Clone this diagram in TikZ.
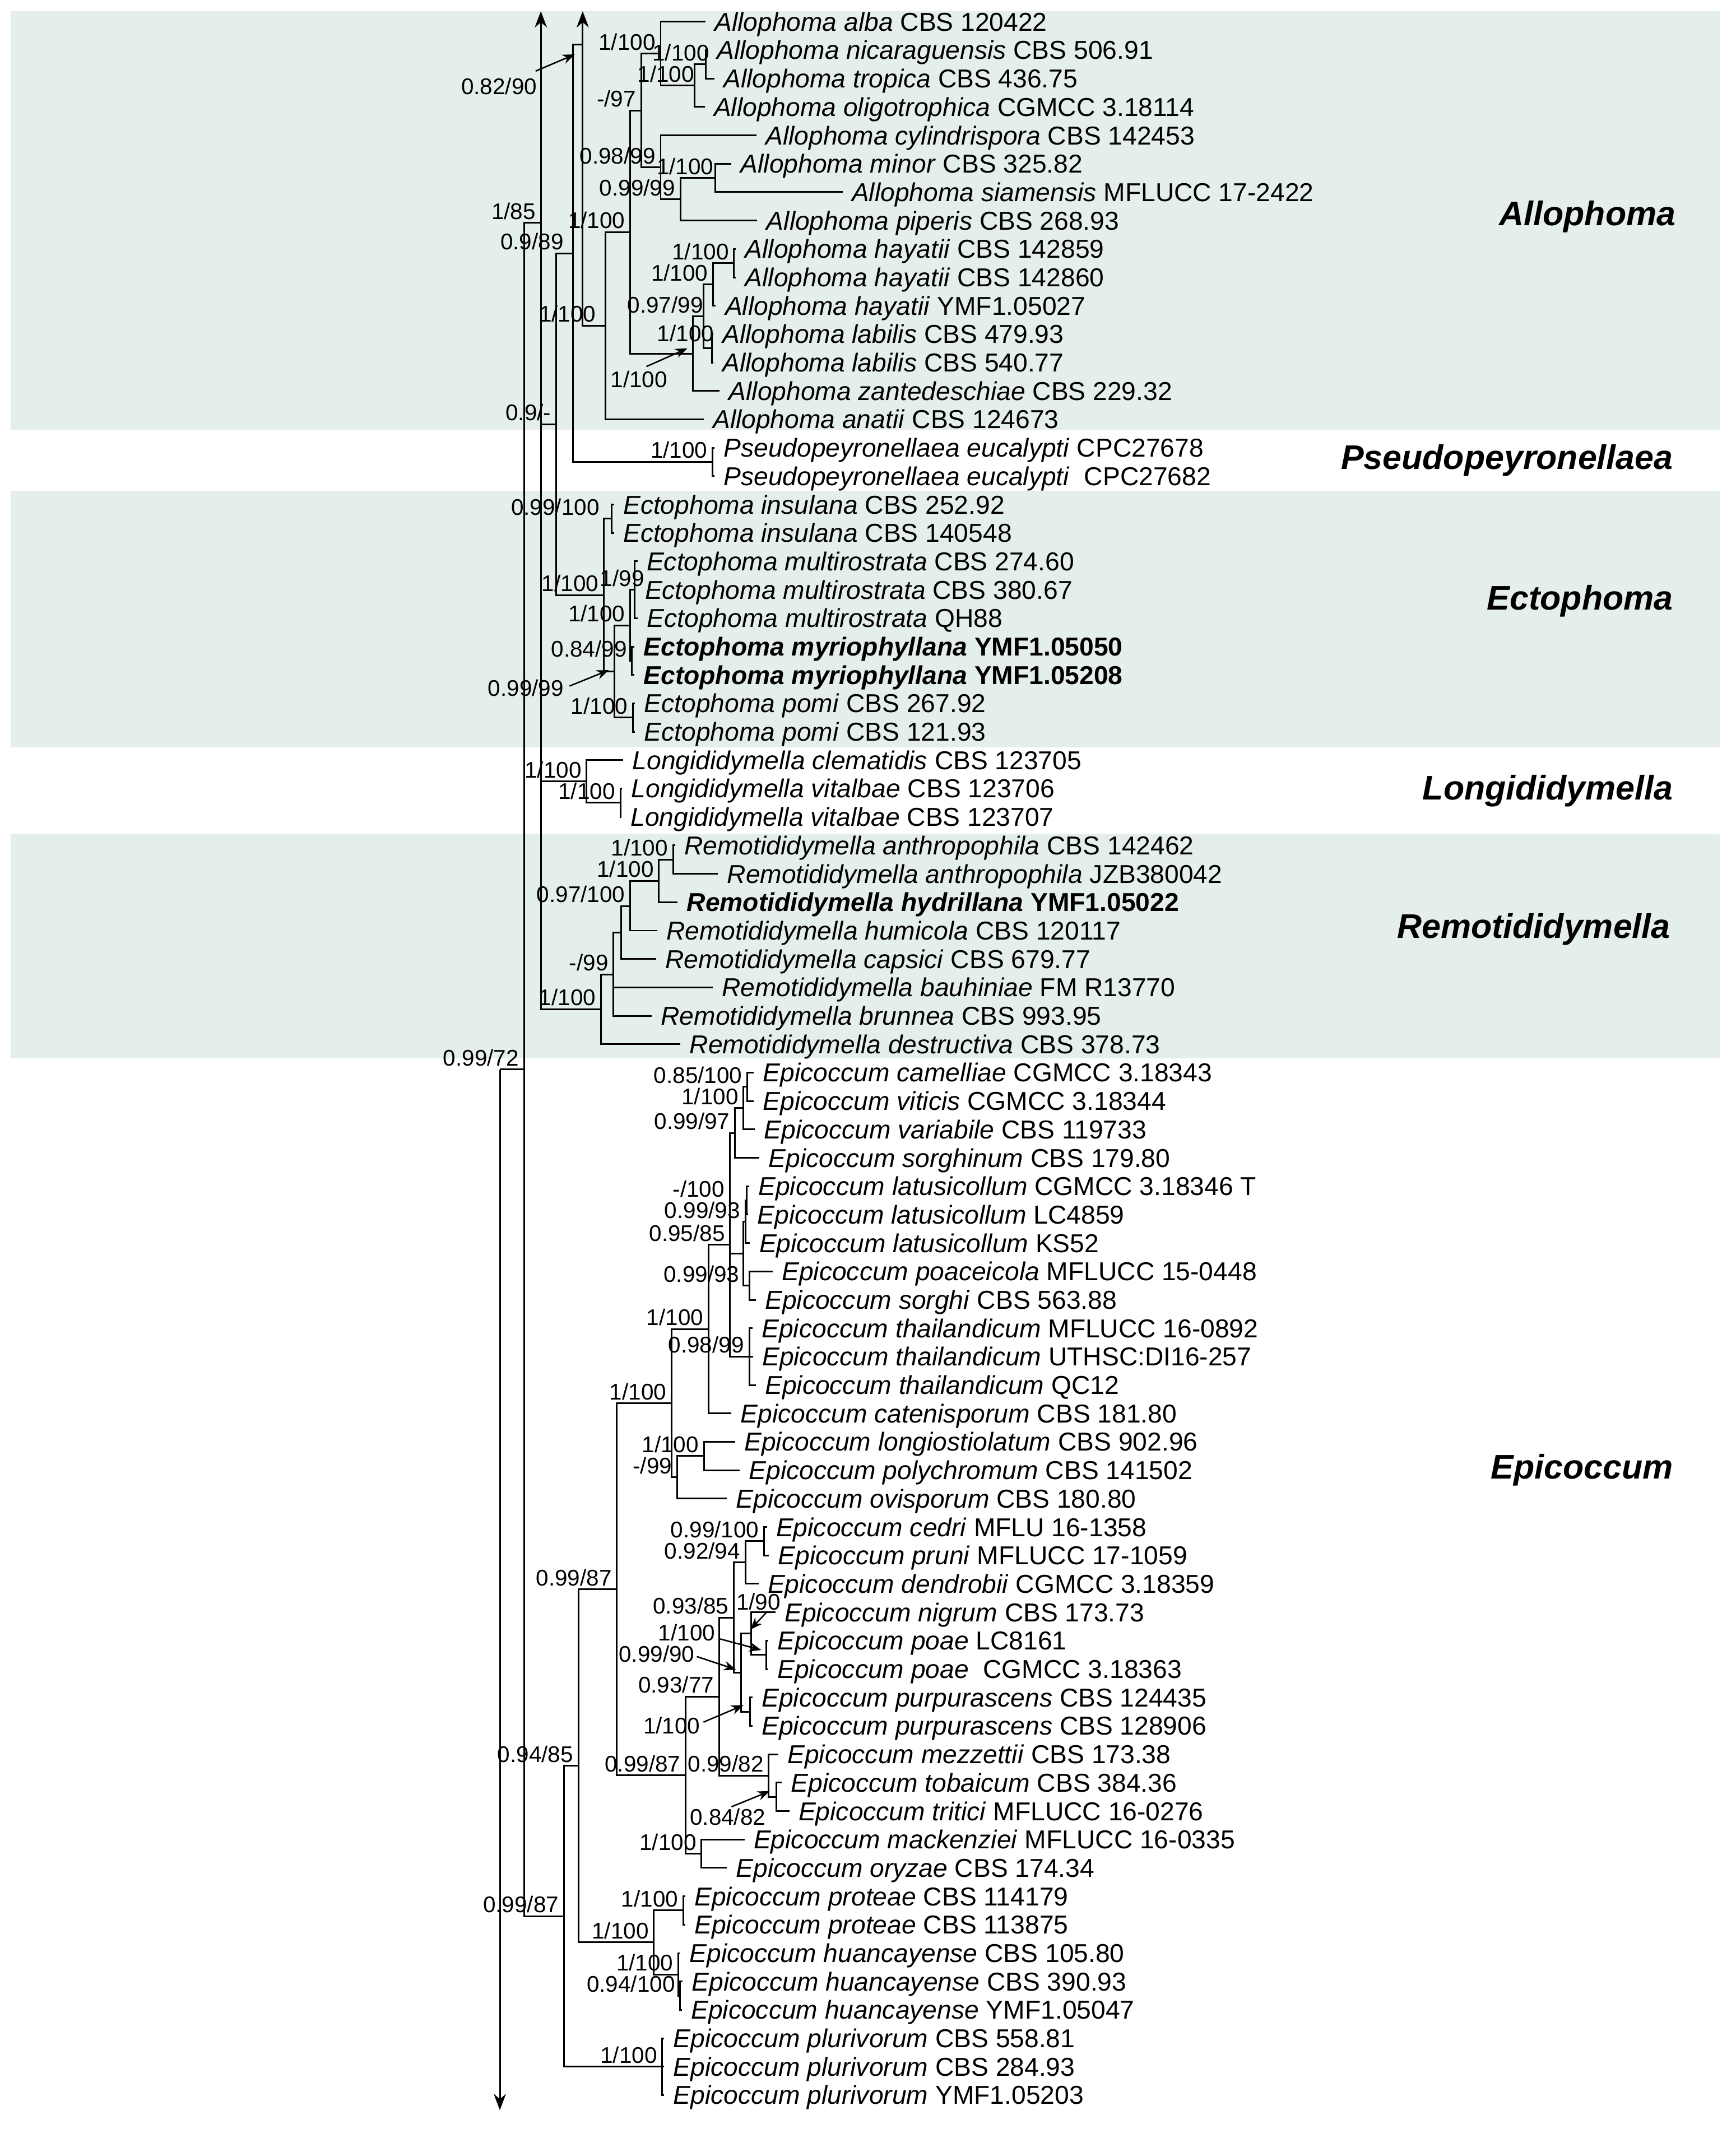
\documentclass[tikz,border=0pt]{standalone}
\usepackage{fontspec}
\setmainfont{Liberation Sans}
\usetikzlibrary{arrows.meta}
\definecolor{cladebg}{RGB}{229,239,233}

\begin{document}
\begin{tikzpicture}[x=0.02cm,y=-0.41836cm,
     branch/.style={line width=0.7pt},
     leaf/.style={anchor=base west,inner sep=0pt,xshift=0.13cm,yshift=-0.136cm,font=\fontsize{10.85}{12}\selectfont},
     supp/.style={anchor=base east,inner sep=0pt,xshift=-0.07cm,yshift=0.054cm,font=\fontsize{9.5}{11}\selectfont},
     note/.style={anchor=base east,inner sep=0pt,font=\fontsize{9.5}{11}\selectfont},
     genus/.style={anchor=base east,inner sep=0pt,yshift=-0.18cm,font=\fontsize{14.3}{16}\selectfont\bfseries\itshape},
     band/.style={fill=cladebg,draw=none},
     longarrow/.style={line width=0.7pt,-{Stealth[length=0.24cm,width=0.18cm]}},
     pointer/.style={line width=0.6pt,-{Stealth[length=0.18cm,width=0.14cm]}}]

     \path[fill=white] (0,0.235) rectangle (1278,75.195);
     \fill[band] (8,0.627) rectangle (1266,15.37);
     \fill[band] (8,17.52) rectangle (1266,26.54);
     \fill[band] (8,29.58) rectangle (1266,37.49);

     \coordinate (root) at (368,37.89);
     \coordinate (rootend) at (368,74.53);
     \coordinate (a) at (385.8,37.89);
     \coordinate (b) at (398.2,8.08);
     \coordinate (btop) at (398.2,0.63);
     \coordinate (c) at (415.2,67.70);
     \coordinate (d) at (409.5,15.17);
     \coordinate (e) at (421.9,9.16);
     \coordinate (f) at (429,1.81);
     \coordinate (ftop) at (429,0.63);
     \coordinate (allo) at (445.6,11.70);
     \coordinate (alloin) at (464,8.41);
     \coordinate (am) at (472,4.125);
     \coordinate (ap) at (486.4,2.125);
     \coordinate (ap2) at (511.4,3.25);
     \coordinate (ap3) at (519.5,2.5);
     \coordinate (aq) at (486.4,6.125);
     \coordinate (aq2) at (500.9,7.25);
     \coordinate (aq3) at (526.7,6.5);
     \coordinate (an) at (510.1,12.69);
     \coordinate (an2) at (518,11.375);
     \coordinate (an3) at (525.1,10.25);
     \coordinate (an5) at (540.4,9.5);
     \coordinate (an4) at (524,12.5);
     \coordinate (pseudo) at (524.6,16.5);
     \coordinate (ecto) at (444.5,21.19);
     \coordinate (ein) at (450.3,18.5);
     \coordinate (ect2) at (452.2,23.875);
     \coordinate (ect3) at (464,22.25);
     \coordinate (emu) at (467.4,21);
     \coordinate (emy) at (465.3,23.5);
     \coordinate (epo) at (466,25.5);
     \coordinate (longi) at (431.9,27.75);
     \coordinate (long2) at (456.7,28.5);
     \coordinate (remo) at (442.4,35.77);
     \coordinate (rm2) at (451.7,34.54);
     \coordinate (rm3) at (457.4,33.07);
     \coordinate (rm4) at (464,32.135);
     \coordinate (rm5) at (485.1,31.25);
     \coordinate (rm6) at (495.6,30.5);
     \coordinate (g) at (425.8,62.41);
     \coordinate (i) at (454.2,56.19);
     \coordinate (j1) at (494.4,49.64);
     \coordinate (j3) at (521.7,47.03);
     \coordinate (j6) at (537.5,44.06);
     \coordinate (e3) at (541.2,40.125);
     \coordinate (e2) at (547.4,39.25);
     \coordinate (e1) at (550.2,38.5);
     \coordinate (j8) at (547.4,44.375);
     \coordinate (la2) at (548.8,43.25);
     \coordinate (la1) at (549.9,42.5);
     \coordinate (pc) at (551.6,45.5);
     \coordinate (th) at (551.6,48);
     \coordinate (j4) at (498.6,52.25);
     \coordinate (j5) at (518.2,51.5);
     \coordinate (j2) at (504.8,62.74);
     \coordinate (k1) at (529.5,59.97);
     \coordinate (cd3) at (540.3,57.19);
     \coordinate (cd2) at (548.8,55.25);
     \coordinate (cd) at (562.6,54.5);
     \coordinate (ng) at (545.8,59.125);
     \coordinate (ng2) at (553,57.75);
     \coordinate (po) at (564,58.5);
     \coordinate (pu) at (552.2,60.5);
     \coordinate (mz) at (566,62.75);
     \coordinate (tt) at (571.5,63.5);
     \coordinate (mo) at (516.5,65.5);
     \coordinate (h) at (481.4,68.625);
     \coordinate (pr) at (503.1,67.5);
     \coordinate (hu) at (499.5,69.75);
     \coordinate (hu2) at (500.8,70.5);
     \coordinate (plu) at (487.6,73);

     \path (519.3,1) coordinate (t1) node[leaf] (l1) {\textit{Allophoma alba} CBS 120422};
     \path (521,2) coordinate (t2) node[leaf] (l2) {\textit{Allophoma nicaraguensis} CBS 506.91};
     \path (525.9,3) coordinate (t3) node[leaf] (l3) {\textit{Allophoma tropica} CBS 436.75};
     \path (518.8,4) coordinate (t4) node[leaf] (l4) {\textit{Allophoma oligotrophica} CGMCC 3.18114};
     \path (556.9,5) coordinate (t5) node[leaf] (l5) {\textit{Allophoma cylindrispora} CBS 142453};
     \path (538.5,6) coordinate (t6) node[leaf] (l6) {\textit{Allophoma minor} CBS 325.82};
     \path (620.3,7) coordinate (t7) node[leaf] (l7) {\textit{Allophoma siamensis} MFLUCC 17-2422};
     \path (557.5,8) coordinate (t8) node[leaf] (l8) {\textit{Allophoma piperis} CBS 268.93};
     \path (541.8,9) coordinate (t9) node[leaf] (l9) {\textit{Allophoma hayatii} CBS 142859};
     \path (541.8,10) coordinate (t10) node[leaf] (l10) {\textit{Allophoma hayatii} CBS 142860};
     \path (527,11) coordinate (t11) node[leaf] (l11) {\textit{Allophoma hayatii} YMF1.05027};
     \path (525.2,12) coordinate (t12) node[leaf] (l12) {\textit{Allophoma labilis} CBS 479.93};
     \path (525.2,13) coordinate (t13) node[leaf] (l13) {\textit{Allophoma labilis} CBS 540.77};
     \path (529.8,14) coordinate (t14) node[leaf] (l14) {\textit{Allophoma zantedeschiae} CBS 229.32};
     \path (518,15) coordinate (t15) node[leaf] (l15) {\textit{Allophoma anatii} CBS 124673};
     \path (526,16) coordinate (t16) node[leaf] (l16) {\textit{Pseudopeyronellaea eucalypti} CPC27678};
     \path (526,17) coordinate (t17) node[leaf] (l17) {\textit{Pseudopeyronellaea eucalypti}\ \ CPC27682};
     \path (452,18) coordinate (t18) node[leaf] (l18) {\textit{Ectophoma insulana} CBS 252.92};
     \path (452,19) coordinate (t19) node[leaf] (l19) {\textit{Ectophoma insulana} CBS 140548};
     \path (469.3,20) coordinate (t20) node[leaf] (l20) {\textit{Ectophoma multirostrata} CBS 274.60};
     \path (468,21) coordinate (t21) node[leaf] (l21) {\textit{Ectophoma multirostrata} CBS 380.67};
     \path (469.5,22) coordinate (t22) node[leaf] (l22) {\textit{Ectophoma multirostrata} QH88};
     \path (467,23) coordinate (t23) node[leaf] (l23) {\textbf{\textit{Ectophoma myriophyllana} YMF1.05050}};
     \path (467,24) coordinate (t24) node[leaf] (l24) {\textbf{\textit{Ectophoma myriophyllana} YMF1.05208}};
     \path (467.5,25) coordinate (t25) node[leaf] (l25) {\textit{Ectophoma pomi} CBS 267.92};
     \path (467.5,26) coordinate (t26) node[leaf] (l26) {\textit{Ectophoma pomi} CBS 121.93};
     \path (458.8,27) coordinate (t27) node[leaf] (l27) {\textit{Longididymella clematidis} CBS 123705};
     \path (458,28) coordinate (t28) node[leaf] (l28) {\textit{Longididymella vitalbae} CBS 123706};
     \path (457.5,29) coordinate (t29) node[leaf] (l29) {\textit{Longididymella vitalbae} CBS 123707};
     \path (497,30) coordinate (t30) node[leaf] (l30) {\textit{Remotididymella anthropophila} CBS 142462};
     \path (528.5,31) coordinate (t31) node[leaf] (l31) {\textit{Remotididymella anthropophila} JZB380042};
     \path (498.8,32) coordinate (t32) node[leaf] (l32) {\textbf{\textit{Remotididymella hydrillana} YMF1.05022}};
     \path (483.8,33) coordinate (t33) node[leaf] (l33) {\textit{Remotididymella humicola} CBS 120117};
     \path (483,34) coordinate (t34) node[leaf] (l34) {\textit{Remotididymella capsici} CBS 679.77};
     \path (524.6,35) coordinate (t35) node[leaf] (l35) {\textit{Remotididymella bauhiniae} FM R13770};
     \path (479.8,36) coordinate (t36) node[leaf] (l36) {\textit{Remotididymella brunnea} CBS 993.95};
     \path (500.9,37) coordinate (t37) node[leaf] (l37) {\textit{Remotididymella destructiva} CBS 378.73};
     \path (555,38) coordinate (t38) node[leaf] (l38) {\textit{Epicoccum camelliae} CGMCC 3.18343};
     \path (555,39) coordinate (t39) node[leaf] (l39) {\textit{Epicoccum viticis} CGMCC 3.18344};
     \path (555.7,40) coordinate (t40) node[leaf] (l40) {\textit{Epicoccum variabile} CBS 119733};
     \path (559.1,41) coordinate (t41) node[leaf] (l41) {\textit{Epicoccum sorghinum} CBS 179.80};
     \path (551.5,42) coordinate (t42) node[leaf] (l42) {\textit{Epicoccum latusicollum} CGMCC 3.18346 T};
     \path (550.8,43) coordinate (t43) node[leaf] (l43) {\textit{Epicoccum latusicollum} LC4859};
     \path (552.2,44) coordinate (t44) node[leaf] (l44) {\textit{Epicoccum latusicollum} KS52};
     \path (568.8,45) coordinate (t45) node[leaf] (l45) {\textit{Epicoccum poaceicola} MFLUCC 15-0448};
     \path (556.4,46) coordinate (t46) node[leaf] (l46) {\textit{Epicoccum sorghi} CBS 563.88};
     \path (554,47) coordinate (t47) node[leaf] (l47) {\textit{Epicoccum thailandicum} MFLUCC 16-0892};
     \path (554.3,48) coordinate (t48) node[leaf] (l48) {\textit{Epicoccum thailandicum} UTHSC:DI16-257};
     \path (556.4,49) coordinate (t49) node[leaf] (l49) {\textit{Epicoccum thailandicum} QC12};
     \path (538.5,50) coordinate (t50) node[leaf] (l50) {\textit{Epicoccum catenisporum} CBS 181.80};
     \path (541.2,51) coordinate (t51) node[leaf] (l51) {\textit{Epicoccum longiostiolatum} CBS 902.96};
     \path (544.7,52) coordinate (t52) node[leaf] (l52) {\textit{Epicoccum polychromum} CBS 141502};
     \path (535.1,53) coordinate (t53) node[leaf] (l53) {\textit{Epicoccum ovisporum} CBS 180.80};
     \path (564.6,54) coordinate (t54) node[leaf] (l54) {\textit{Epicoccum cedri} MFLU 16-1358};
     \path (566,55) coordinate (t55) node[leaf] (l55) {\textit{Epicoccum pruni} MFLUCC 17-1059};
     \path (558.4,56) coordinate (t56) node[leaf] (l56) {\textit{Epicoccum dendrobii} CGMCC 3.18359};
     \path (570.8,57) coordinate (t57) node[leaf] (l57) {\textit{Epicoccum nigrum} CBS 173.73};
     \path (565.5,58) coordinate (t58) node[leaf] (l58) {\textit{Epicoccum poae} LC8161};
     \path (565.5,59) coordinate (t59) node[leaf] (l59) {\textit{Epicoccum poae}\ \ CGMCC 3.18363};
     \path (554,60) coordinate (t60) node[leaf] (l60) {\textit{Epicoccum purpurascens} CBS 124435};
     \path (554,61) coordinate (t61) node[leaf] (l61) {\textit{Epicoccum purpurascens} CBS 128906};
     \path (572.9,62) coordinate (t62) node[leaf] (l62) {\textit{Epicoccum mezzettii} CBS 173.38};
     \path (575.6,63) coordinate (t63) node[leaf] (l63) {\textit{Epicoccum tobaicum} CBS 384.36};
     \path (581.1,64) coordinate (t64) node[leaf] (l64) {\textit{Epicoccum tritici} MFLUCC 16-0276};
     \path (548.1,65) coordinate (t65) node[leaf] (l65) {\textit{Epicoccum mackenziei} MFLUCC 16-0335};
     \path (535.1,66) coordinate (t66) node[leaf] (l66) {\textit{Epicoccum oryzae} CBS 174.34};
     \path (504.5,67) coordinate (t67) node[leaf] (l67) {\textit{Epicoccum proteae} CBS 114179};
     \path (504.5,68) coordinate (t68) node[leaf] (l68) {\textit{Epicoccum proteae} CBS 113875};
     \path (501,69) coordinate (t69) node[leaf] (l69) {\textit{Epicoccum huancayense} CBS 105.80};
     \path (502.5,70) coordinate (t70) node[leaf] (l70) {\textit{Epicoccum huancayense} CBS 390.93};
     \path (502,71) coordinate (t71) node[leaf] (l71) {\textit{Epicoccum huancayense} YMF1.05047};
     \path (489,72) coordinate (t72) node[leaf] (l72) {\textit{Epicoccum plurivorum} CBS 558.81};
     \path (489,73) coordinate (t73) node[leaf] (l73) {\textit{Epicoccum plurivorum} CBS 284.93};
     \path (489,74) coordinate (t74) node[leaf] (l74) {\textit{Epicoccum plurivorum} YMF1.05203};

     \draw[branch] (root) -- (a);
     \draw[longarrow] (root) -- (rootend);
     \draw[branch] (a) |- (b) (a) |- (c);
     \draw[longarrow] (b) -- (btop);
     \draw[branch] (b) |- (d) (b) |- (longi) (b) |- (remo);
     \draw[branch] (d) |- (e) (d) |- (ecto);
     \draw[branch] (e) |- (f) (e) |- (pseudo);
     \draw[longarrow] (f) -- (ftop);
     \draw[branch] (f) |- (allo);
     \draw[branch] (allo) |- (alloin) (allo) |- (t15);
     \draw[branch] (alloin) |- (am) (alloin) |- (an);
     \draw[branch] (am) |- (ap) (am) |- (aq);
     \draw[branch] (ap) |- (t1) (ap) |- (ap2);
     \draw[branch] (ap2) |- (ap3) (ap2) |- (t4);
     \draw[branch] (ap3) |- (t2) (ap3) |- (t3);
     \draw[branch] (aq) |- (t5) (aq) |- (aq2);
     \draw[branch] (aq2) |- (aq3) (aq2) |- (t8);
     \draw[branch] (aq3) |- (t6) (aq3) |- (t7);
     \draw[branch] (an) |- (an2) (an) |- (t14);
     \draw[branch] (an2) |- (an3) (an2) |- (an4);
     \draw[branch] (an3) |- (an5) (an3) |- (t11);
     \draw[branch] (an5) |- (t9) (an5) |- (t10);
     \draw[branch] (an4) |- (t12) (an4) |- (t13);
     \draw[branch] (pseudo) |- (t16) (pseudo) |- (t17);
     \draw[branch] (ecto) |- (ein) (ecto) |- (ect2);
     \draw[branch] (ein) |- (t18) (ein) |- (t19);
     \draw[branch] (ect2) |- (ect3) (ect2) |- (epo);
     \draw[branch] (ect3) |- (emu) (ect3) |- (emy);
     \draw[branch] (emu) |- (t20) (emu) |- (t21) (emu) |- (t22);
     \draw[branch] (emy) |- (t23) (emy) |- (t24);
     \draw[branch] (epo) |- (t25) (epo) |- (t26);
     \draw[branch] (longi) |- (t27) (longi) |- (long2);
     \draw[branch] (long2) |- (t28) (long2) |- (t29);
     \draw[branch] (remo) |- (rm2) (remo) |- (t37);
     \draw[branch] (rm2) |- (rm3) (rm2) |- (t35) (rm2) |- (t36);
     \draw[branch] (rm3) |- (rm4) (rm3) |- (t34);
     \draw[branch] (rm4) |- (rm5) (rm4) |- (t33);
     \draw[branch] (rm5) |- (rm6) (rm5) |- (t32);
     \draw[branch] (rm6) |- (t30) (rm6) |- (t31);
     \draw[branch] (c) |- (g) (c) |- (plu);
     \draw[branch] (g) |- (i) (g) |- (h);
     \draw[branch] (i) |- (j1) (i) |- (j2);
     \draw[branch] (j1) |- (j3) (j1) |- (j4);
     \draw[branch] (j3) |- (j6) (j3) |- (t50);
     \draw[branch] (j6) |- (e3) (j6) |- (j8) (j6) |- (th);
     \draw[branch] (e3) |- (e2) (e3) |- (t41);
     \draw[branch] (e2) |- (e1) (e2) |- (t40);
     \draw[branch] (e1) |- (t38) (e1) |- (t39);
     \draw[branch] (j8) |- (la2) (j8) |- (pc);
     \draw[branch] (la2) |- (la1) (la2) |- (t44);
     \draw[branch] (la1) |- (t42) (la1) |- (t43);
     \draw[branch] (pc) |- (t45) (pc) |- (t46);
     \draw[branch] (th) |- (t47) (th) |- (t48) (th) |- (t49);
     \draw[branch] (j4) |- (j5) (j4) |- (t53);
     \draw[branch] (j5) |- (t51) (j5) |- (t52);
     \draw[branch] (j2) |- (k1) (j2) |- (mo);
     \draw[branch] (k1) |- (cd3) (k1) |- (mz);
     \draw[branch] (cd3) |- (cd2) (cd3) |- (ng);
     \draw[branch] (cd2) |- (cd) (cd2) |- (t56);
     \draw[branch] (cd) |- (t54) (cd) |- (t55);
     \draw[branch] (ng) |- (ng2) (ng) |- (pu);
     \draw[branch] (ng2) |- (t57) (ng2) |- (po);
     \draw[branch] (po) |- (t58) (po) |- (t59);
     \draw[branch] (pu) |- (t60) (pu) |- (t61);
     \draw[branch] (mz) |- (t62) (mz) |- (tt);
     \draw[branch] (tt) |- (t63) (tt) |- (t64);
     \draw[branch] (mo) |- (t65) (mo) |- (t66);
     \draw[branch] (h) |- (pr) (h) |- (hu);
     \draw[branch] (pr) |- (t67) (pr) |- (t68);
     \draw[branch] (hu) |- (t69) (hu) |- (hu2);
     \draw[branch] (hu2) |- (t70) (hu2) |- (t71);
     \draw[branch] (plu) |- (t72) (plu) |- (t73) (plu) |- (t74);

     \node[supp] (s-a) at (a) {0.99/72};
     \node[supp] (s-b) at (b) {1/85};
     \node[supp] (s-d) at (d) {0.9/-};
     \node[supp,xshift=-0.064cm] (s-e) at (e) {0.9/89};
     \node[supp,xshift=-0.062cm] (s-allo) at (allo) {1/100};
     \node[supp] (s-alloin) at (alloin) {1/100};
     \node[supp] (s-am) at (am) {-/97};
     \node[supp] (s-ap) at (ap) {1/100};
     \node[supp,xshift=0.07cm] (s-ap2) at (ap2) {1/100};
     \node[supp,xshift=0.13cm] (s-ap3) at (ap3) {1/100};
     \node[supp] (s-aq) at (aq) {0.98/99};
     \node[supp] (s-aq2) at (aq2) {0.99/99};
     \node[supp,xshift=0.05cm] (s-aq3) at (aq3) {1/100};
     \node[supp,xshift=0.07cm] (s-an2) at (an2) {0.97/99};
     \node[supp] (s-an3) at (an3) {1/100};
     \node[supp] (s-an5) at (an5) {1/100};
     \node[supp,xshift=0.11cm,yshift=0.05cm] (s-an4) at (an4) {1/100};
     \node[supp] (s-pseudo) at (pseudo) {1/100};
     \node[supp] (s-ecto) at (ecto) {1/100};
     \node[supp,xshift=-0.104cm] (s-ein) at (ein) {0.99/100};
     \node[supp] (s-ect3) at (ect3) {1/100};
     \node[supp,xshift=0.214cm] (s-emu) at (emu) {1/99};
     \node[supp] (s-emy) at (emy) {0.84/99};
     \node[supp] (s-epo) at (epo) {1/100};
     \node[supp] (s-longi) at (longi) {1/100};
     \node[supp] (s-long2) at (long2) {1/100};
     \node[supp] (s-remo) at (remo) {1/100};
     \node[supp] (s-rm2) at (rm2) {-/99};
     \node[supp] (s-rm4) at (rm4) {0.97/100};
     \node[supp] (s-rm5) at (rm5) {1/100};
     \node[supp] (s-rm6) at (rm6) {1/100};
     \node[supp] (s-c) at (c) {0.99/87};
     \node[supp] (s-g) at (g) {0.94/85};
     \node[supp] (s-i) at (i) {0.99/87};
     \node[supp] (s-j1) at (j1) {1/100};
     \node[supp] (s-j3) at (j3) {1/100};
     \node[supp] (s-j6) at (j6) {0.95/85};
     \node[supp] (s-e3) at (e3) {0.99/97};
     \node[supp] (s-e2) at (e2) {1/100};
     \node[supp] (s-e1) at (e1) {0.85/100};
     \node[supp] (s-la2) at (la2) {0.99/93};
     \node[supp,xshift=-0.254cm] (s-la1) at (la1) {-/100};
     \node[supp,xshift=-0.068cm] (s-pc) at (pc) {0.99/93};
     \node[supp] (s-th) at (th) {0.98/99};
     \node[supp] (s-j4) at (j4) {-/99};
     \node[supp] (s-j5) at (j5) {1/100};
     \node[supp] (s-j2) at (j2) {0.99/87};
     \node[supp] (s-k1) at (k1) {0.93/77};
     \node[supp] (s-cd3) at (cd3) {0.93/85};
     \node[supp] (s-cd2) at (cd2) {0.92/94};
     \node[supp] (s-cd) at (cd) {0.99/100};
     \node[supp] (s-mz) at (mz) {0.99/82};
     \node[supp] (s-mo) at (mo) {1/100};
     \node[supp] (s-h) at (h) {1/100};
     \node[supp] (s-pr) at (pr) {1/100};
     \node[supp] (s-hu) at (hu) {1/100};
     \node[supp] (s-hu2) at (hu2) {0.94/100};
     \node[supp] (s-plu) at (plu) {1/100};

     \node[note] (s-f) at (395.6,3.56) {0.82/90};
     \node[note] (s-an) at (491.7,13.87) {1/100};
     \node[note] (s-ect2) at (415.3,24.75) {0.99/99};
     \node[note] (s-ng) at (511.7,58.75) {0.99/90};
     \node[note] (s-ng2) at (575,56.91) {1/90};
     \node[note] (s-po) at (526.8,58.0) {1/100};
     \node[note] (s-pu) at (515.8,61.28) {1/100};
     \node[note] (s-tt) at (564,64.50) {0.84/82};

     \coordinate (p-f) at (394.3,2.74);
     \coordinate (q-f) at (423.2,2.15);
     \coordinate (p-an) at (475.9,13.14);
     \coordinate (q-an) at (506.1,12.50);
     \coordinate (p-ect2) at (419.3,24.39);
     \coordinate (q-ect2) at (448.2,23.83);
     \coordinate (p-ng) at (513,58.56);
     \coordinate (q-ng) at (541.9,59.02);
     \coordinate (p-ng2) at (564,57.02);
     \coordinate (q-ng2) at (552.4,57.61);
     \coordinate (p-po) at (530.2,57.94);
     \coordinate (q-po) at (560.5,58.33);
     \coordinate (p-pu) at (517.9,60.87);
     \coordinate (q-pu) at (547.4,60.27);
     \coordinate (p-tt) at (538.5,63.85);
     \coordinate (q-tt) at (566.7,63.30);

     \draw[pointer] (p-f) -- (q-f);
     \draw[pointer] (p-an) -- (q-an);
     \draw[pointer] (p-ect2) -- (q-ect2);
     \draw[pointer] (p-ng) -- (q-ng);
     \draw[pointer] (p-ng2) -- (q-ng2);
     \draw[pointer] (p-po) -- (q-po);
     \draw[pointer] (p-pu) -- (q-pu);
     \draw[pointer] (p-tt) -- (q-tt);

     \node[genus] (g-allo) at (1234,7.74) {Allophoma};
     \node[genus] (g-pseudo) at (1232,16.33) {Pseudopeyronellaea};
     \node[genus] (g-ecto) at (1232,21.27) {Ectophoma};
     \node[genus] (g-longi) at (1232,27.96) {Longididymella};
     \node[genus] (g-remo) at (1230,32.84) {Remotididymella};
     \node[genus] (g-epi) at (1232,51.87) {Epicoccum};

\end{tikzpicture}
\end{document}
